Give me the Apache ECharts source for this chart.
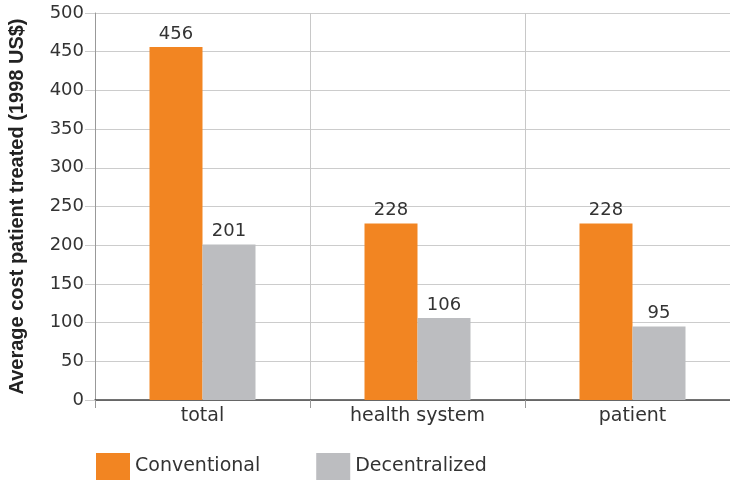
<!DOCTYPE html>
<html>
<head>
<meta charset="utf-8">
<script src="https://cdn.jsdelivr.net/npm/echarts@6/dist/echarts.min.js"></script>
<style>
  html, body { margin: 0; padding: 0; background: #fff; }
  #chart { width: 730px; height: 483px; }
</style>
</head>
<body>
<div id="chart"></div>
<script>
// Average cost per patient treated, conventional vs decentralized care
const categories = ['total', 'health system', 'patient'];
const conventional = [456, 228, 228];
const decentralized = [201, 106, 95];
const yTicks = { min: 0, max: 500, interval: 50 };
const yTitle = 'Average cost patient treated (1998 US$)';

const FONT = '"DejaVu Sans", sans-serif';
const TITLE_FONT = '"Liberation Sans", Arial, sans-serif';
const chart = echarts.init(document.getElementById('chart'));

const labelStyle = {
  show: true,
  position: 'top',
  distance: 4,
  color: '#333',
  fontFamily: FONT,
  fontSize: 18
};

chart.setOption({
  animation: false,
  textStyle: { fontFamily: FONT },
  grid: { left: 95, right: -10, top: 13, bottom: 83, outerBoundsMode: 'none', containLabel: false },
  legend: {
    left: 96,
    top: 453,
    padding: 0,
    itemWidth: 34,
    itemHeight: 27,
    itemGap: 56,
    itemTextGap: 10,
    icon: 'rect',
    textStyle: { fontFamily: FONT, fontSize: 19, color: '#333' },
    data: ['Conventional', 'Decentralized']
  },
  xAxis: {
    type: 'category',
    data: categories,
    axisLine: { show: true, lineStyle: { color: '#444', width: 1.5 } },
    axisTick: { show: true, length: 8, lineStyle: { color: '#999' } },
    splitLine: { show: true, lineStyle: { color: '#c8c8c8' } },
    axisLabel: { color: '#333', fontFamily: FONT, fontSize: 19, margin: 7 }
  },
  yAxis: {
    type: 'value',
    min: yTicks.min,
    max: yTicks.max,
    interval: yTicks.interval,
    name: yTitle,
    nameLocation: 'middle',
    nameGap: 68,
    nameTextStyle: { fontFamily: TITLE_FONT, fontSize: 20, fontWeight: 'bold', color: '#222' },
    axisLine: { show: true, lineStyle: { color: '#999' } },
    axisTick: { show: true, length: 10, lineStyle: { color: '#ccc' } },
    splitLine: { show: true, lineStyle: { color: '#ccc' } },
    axisLabel: { color: '#333', fontFamily: FONT, fontSize: 18, margin: 11 }
  },
  series: [
    {
      name: 'Conventional',
      type: 'bar',
      data: conventional,
      barWidth: 53,
      barGap: '0%',
      itemStyle: { color: '#F28522' },
      label: labelStyle
    },
    {
      name: 'Decentralized',
      type: 'bar',
      data: decentralized,
      barWidth: 53,
      itemStyle: { color: '#BCBDC0' },
      label: labelStyle
    }
  ]
});
</script>
</body>
</html>
